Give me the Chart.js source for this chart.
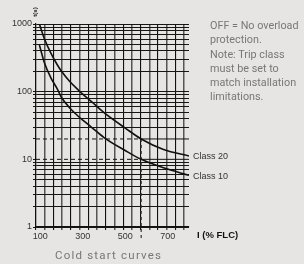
<!DOCTYPE html>
<html>
<head>
<meta charset="utf-8">
<script src="https://cdn.jsdelivr.net/npm/chart.js@4"></script>
<style>
  html, body { margin: 0; padding: 0; background: #e7e5e3; }
  #wrap { position: relative; width: 304px; height: 264px; overflow: hidden; }
  #chart { position: absolute; left: 0; top: 0; }
  .note {
    position: absolute; left: 210px; top: 19px;
    font-family: Roboto, sans-serif; font-size: 10.8px; line-height: 14.3px;
    color: #777; white-space: nowrap;
  }
  .caption {
    position: absolute; left: 55px; top: 248px;
    font-family: Roboto, sans-serif; font-size: 11.5px; letter-spacing: 1.2px;
    color: #777; white-space: nowrap;
  }
</style>
</head>
<body>
<div id="wrap">
  <canvas id="chart" width="304" height="264"></canvas>
  <div class="note">OFF = No overload<br>protection.<br>Note: Trip class<br>must be set to<br>match installation<br>limitations.</div>
  <div class="caption">Cold start curves</div>
</div>
<script>
// current in % FLC, trip time in seconds
const currentPct = [96, 120, 150, 180, 200, 240, 280, 300, 340, 400, 500, 575, 680, 800];
const class20Time = [1000, 600, 370, 250, 200, 140, 105, 92, 72, 49, 29, 20, 14, 11.2];
const class10Time = [490, 265, 160, 110, 82, 57, 43, 38, 30, 21, 13.5, 10, 7.5, 5.8];
const seriesNames = ['Class 20', 'Class 10'];

// marker at 600% FLC (as drawn), 20 s and 10 s
const markerPct = 575;
const markerTimes = [20, 10];

const xLabelTicks = [100, 300, 500, 700];
const xGridTicks = [80, 121, 162, 203, 244, 285, 326, 367, 408, 449, 490, 531, 572, 613, 654, 695, 736, 777];
const yTicks = [1, 2, 3, 4, 5, 6, 7, 8, 9, 10, 20, 30, 40, 50, 60, 70, 80, 90,
  100, 200, 300, 400, 500, 600, 700, 800, 900, 1000];
const yLabelTicks = [1, 10, 100, 1000];

const pts = (ys) => currentPct.map((x, i) => ({ x, y: ys[i] }));

const curveStyle = {
  borderColor: '#111',
  borderWidth: 1.6,
  pointRadius: 0,
  cubicInterpolationMode: 'monotone',
  fill: false,
};

function markerLine(t) {
  return {
    data: [{ x: 80, y: t }, { x: markerPct, y: t }, { x: 800, y: t }],
    borderColor: '#111',
    borderWidth: 1,
    pointRadius: 0,
    segment: { borderDash: (ctx) => (ctx.p0DataIndex === 0 ? [4, 3] : undefined) },
  };
}

const textPlugin = {
  id: 'extraText',
  afterDraw(chart) {
    const { ctx, scales } = chart;
    ctx.save();
    ctx.fillStyle = '#333';
    ctx.font = '9px "Liberation Sans", Arial, sans-serif';
    ctx.textBaseline = 'middle';
    ctx.textAlign = 'left';
    const lastX = scales.x.getPixelForValue(currentPct[currentPct.length - 1]);
    [class20Time, class10Time].forEach((ys, i) => {
      const y = scales.y.getPixelForValue(ys[ys.length - 1]);
      ctx.fillText(seriesNames[i], lastX + 4, y + 1);
    });
    ctx.fillStyle = '#111';
    ctx.font = 'bold 9.5px "Liberation Sans", Arial, sans-serif';
    ctx.fillText('I (% FLC)', 197, 235);
    ctx.translate(35, 12);
    ctx.rotate(-Math.PI / 2);
    ctx.font = 'bold 6px "Liberation Sans", Arial, sans-serif';
    ctx.textAlign = 'center';
    ctx.fillText('t(s)', 0, 0);
    ctx.restore();
  },
};

// eslint-disable-next-line no-undef
new Chart(document.getElementById('chart'), {
  type: 'line',
  data: {
    datasets: [
      { label: seriesNames[0], data: pts(class20Time), ...curveStyle },
      { label: seriesNames[1], data: pts(class10Time), ...curveStyle },
      markerLine(markerTimes[0]),
      markerLine(markerTimes[1]),
      {
        data: [{ x: markerPct, y: markerTimes[0] }, { x: markerPct, y: 0.63 }],
        borderColor: '#333',
        borderWidth: 1.2,
        borderDash: [3, 3],
        pointRadius: 0,
        clip: false,
      },
    ],
  },
  options: {
    responsive: false,
    animation: false,
    parsing: false,
    layout: { padding: { left: 0, top: 24, right: 115, bottom: 0 } },
    plugins: { legend: { display: false }, tooltip: { enabled: false } },
    scales: {
      x: {
        type: 'linear',
        min: 80,
        max: 800,
        afterBuildTicks: (scale) => {
          scale.ticks = [...xGridTicks, ...xLabelTicks].sort((a, b) => a - b).map((v) => ({ value: v }));
        },
        afterFit: (scale) => { scale.height = 37; },
        border: { color: '#111', width: 1.2 },
        grid: {
          color: (c) => {
            const v = c.tick && c.tick.value;
            if (xLabelTicks.includes(v)) return 'rgba(0,0,0,0)';
            return xGridTicks.indexOf(v) % 2 ? '#555' : '#111';
          },
          lineWidth: (c) => (xGridTicks.indexOf(c.tick && c.tick.value) % 2 ? 1.5 : 1.1),
          tickLength: 3,
        },
        ticks: {
          autoSkip: false,
          maxRotation: 0,
          padding: 1,
          color: '#333',
          font: { family: '"Liberation Sans", Arial, sans-serif', size: 9 },
          callback: (v) => (xLabelTicks.includes(v) ? String(v) : ''),
        },
      },
      y: {
        type: 'logarithmic',
        min: 1,
        max: 1000,
        afterBuildTicks: (scale) => {
          scale.ticks = yTicks.map((v) => ({ value: v }));
        },
        afterFit: (scale) => { scale.width = 36; },
        border: { color: '#111', width: 1.2 },
        grid: {
          color: (c) => (markerTimes.includes(c.tick && c.tick.value) ? 'rgba(0,0,0,0)' : '#161616'),
          tickColor: '#161616',
          lineWidth: 1,
          tickLength: 3,
        },
        ticks: {
          autoSkip: false,
          padding: 1,
          color: '#333',
          font: { family: '"Liberation Sans", Arial, sans-serif', size: 9 },
          callback: (v) => (yLabelTicks.includes(v) ? String(v) : ''),
        },
      },
    },
  },
  plugins: [textPlugin],
});
</script>
</body>
</html>
